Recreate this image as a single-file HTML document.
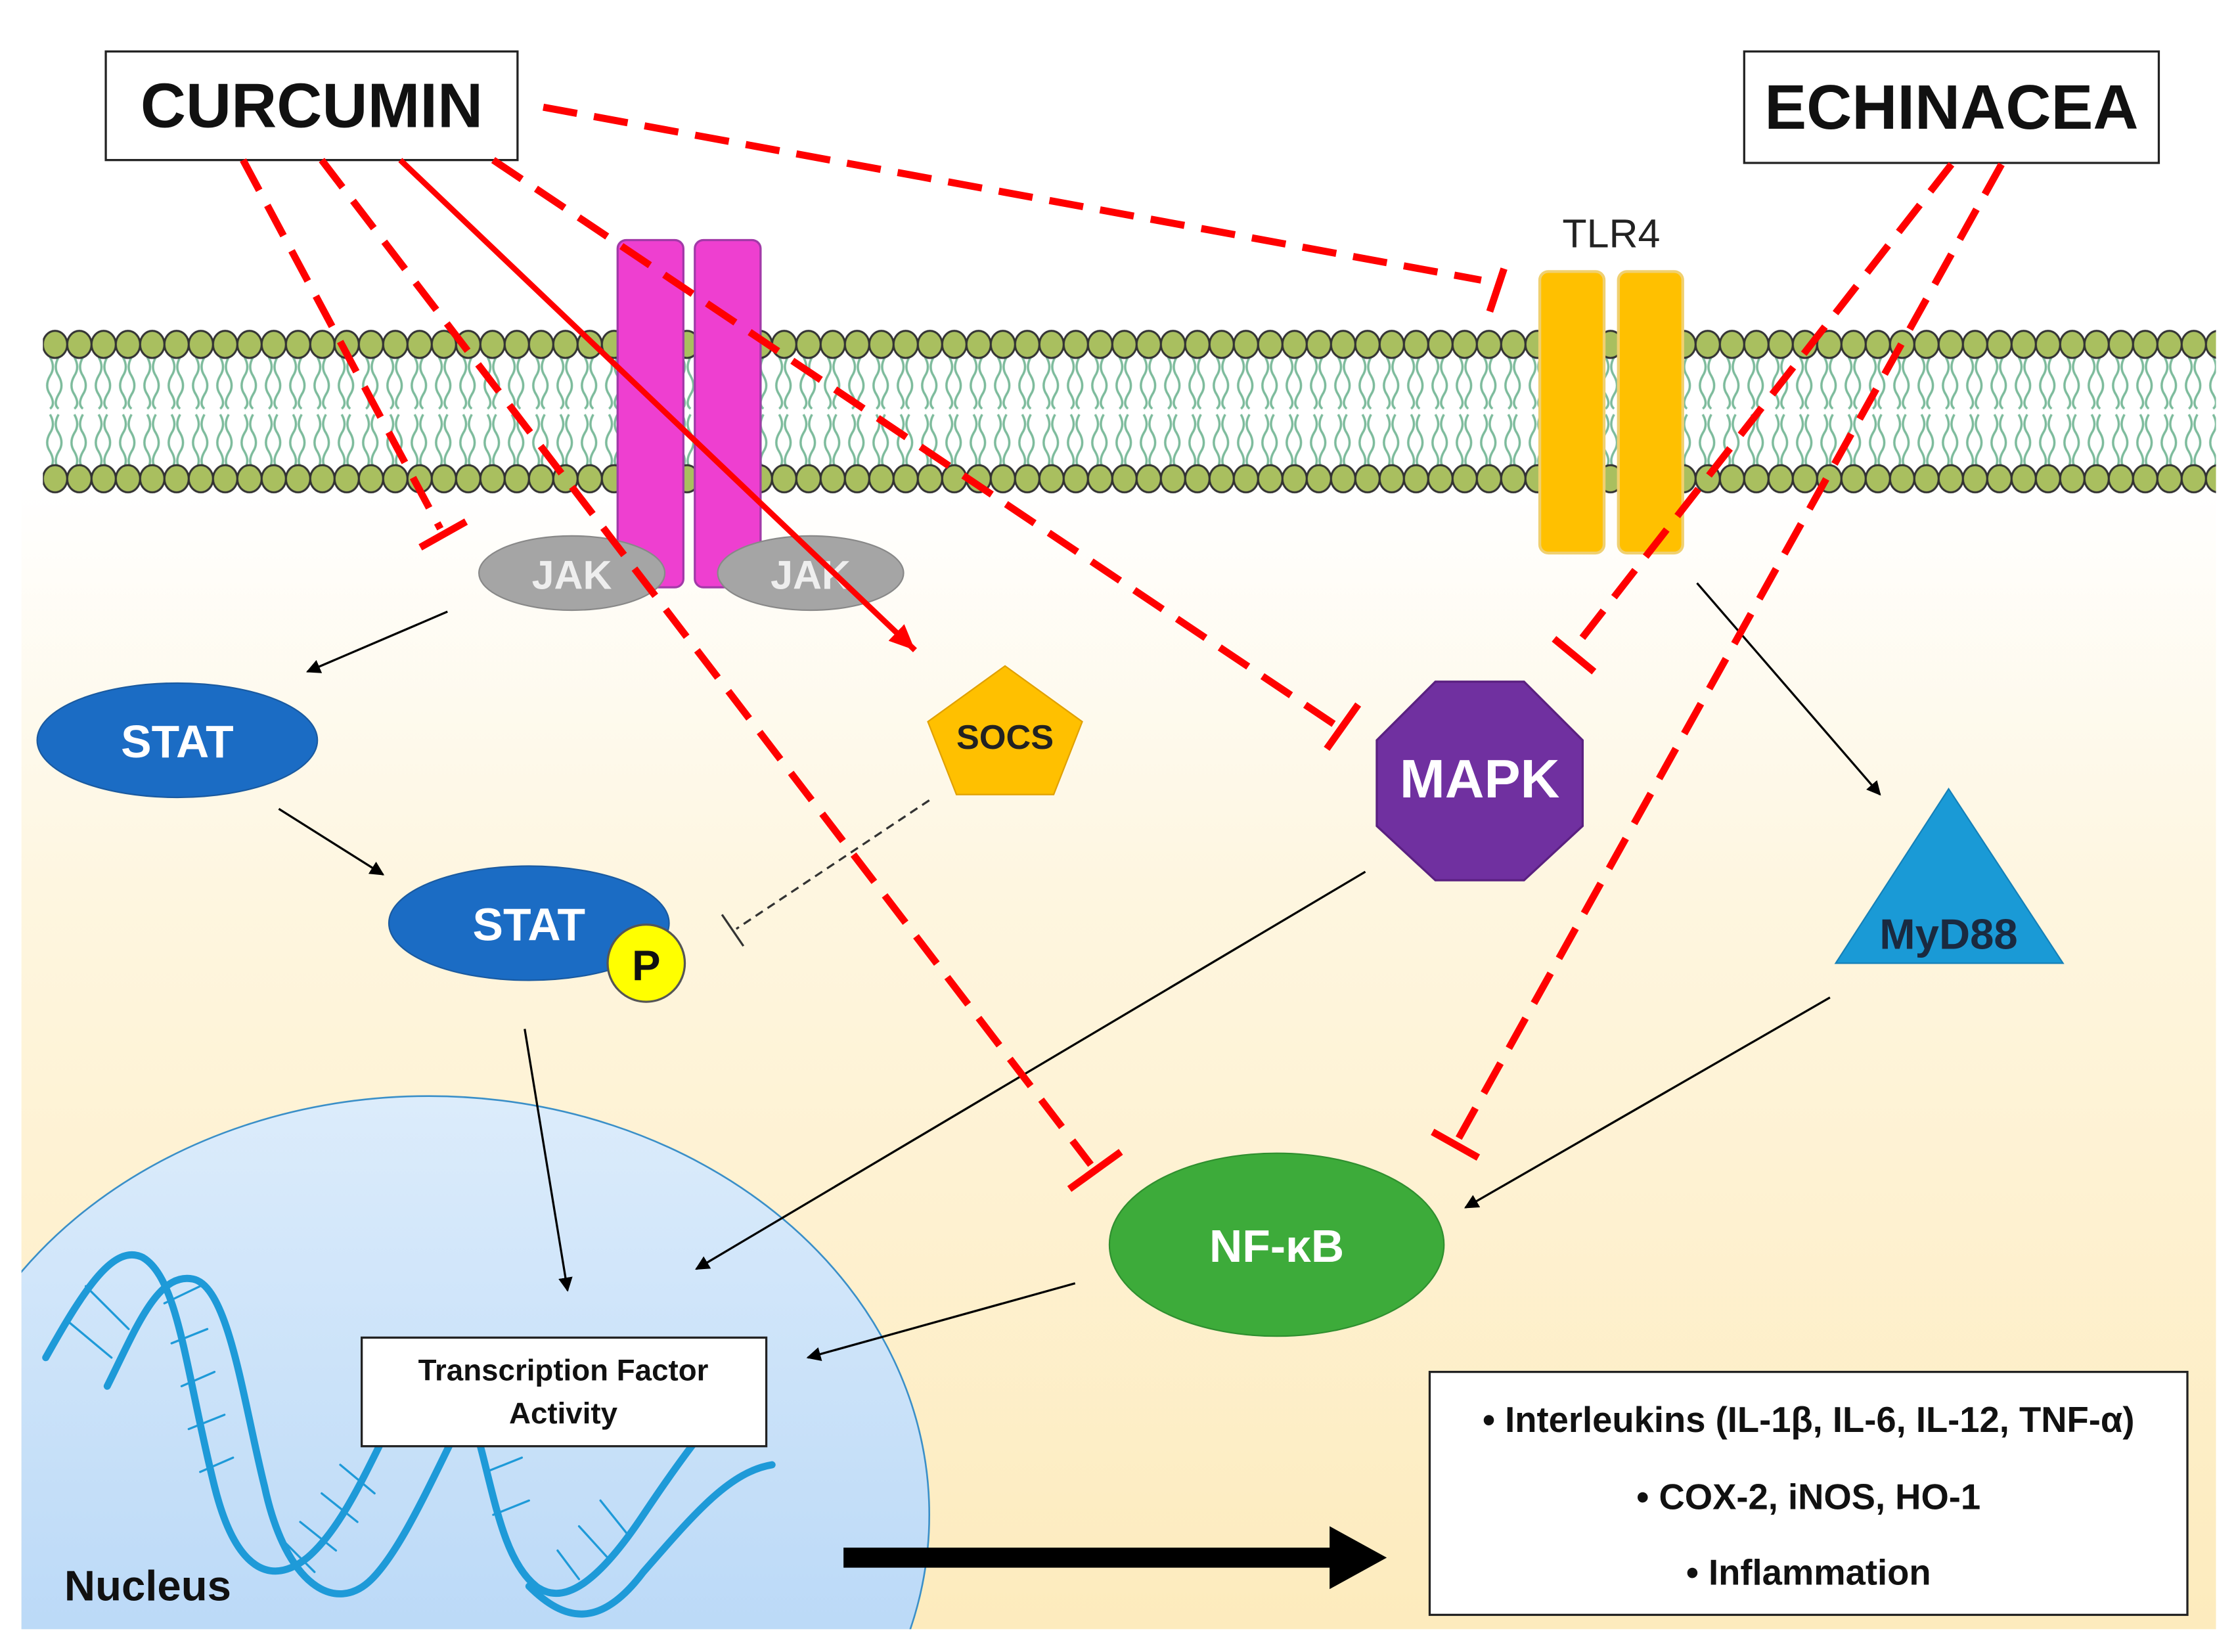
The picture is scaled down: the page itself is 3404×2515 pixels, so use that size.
<!DOCTYPE html>
<html><head><meta charset="utf-8"><style>
html,body{margin:0;padding:0;background:#fff;width:3404px;height:2515px;overflow:hidden;position:relative}
svg{display:block;position:absolute;left:0;top:0}
text{font-family:"Liberation Sans Narrow","Liberation Sans",sans-serif;font-weight:bold}
</style></head><body>
<svg width="3404" height="2515" viewBox="0 0 1564 1156" preserveAspectRatio="none" overflow="hidden" xmlns="http://www.w3.org/2000/svg">
<defs>
<linearGradient id="bg" x1="0" y1="0" x2="0" y2="1">
<stop offset="0" stop-color="#ffffff"/><stop offset="0.35" stop-color="#fef6e0"/><stop offset="1" stop-color="#fdebbd"/>
</linearGradient>
<linearGradient id="nuc" x1="0" y1="0" x2="0" y2="1">
<stop offset="0" stop-color="#dcecfb"/><stop offset="1" stop-color="#a9cff5"/>
</linearGradient>
<pattern id="mem" x="30" y="230" width="17" height="116" patternUnits="userSpaceOnUse">
<g fill="none" stroke="#7dbb9c" stroke-width="1.6">
<path d="M5,20 q4,7 0,13 q-4,7 0,13 q4,7 0,10"/>
<path d="M11,20 q-4,7 0,13 q4,7 0,13 q-4,7 0,10"/>
<path d="M5,60 q4,7 0,13 q-4,7 0,13 q4,7 0,12"/>
<path d="M11,60 q-4,7 0,13 q4,7 0,13 q-4,7 0,12"/>
</g>
<ellipse cx="8.5" cy="11" rx="8.5" ry="9.5" fill="#a9bf5f" stroke="#333" stroke-width="1.4"/>
<ellipse cx="8.5" cy="105" rx="8.5" ry="9.5" fill="#a9bf5f" stroke="#333" stroke-width="1.4"/>
</pattern>
<marker id="ah" markerWidth="10" markerHeight="10" refX="9" refY="5" orient="auto" markerUnits="userSpaceOnUse"><path d="M0,0 L10,5 L0,10 z" fill="#000"/></marker>
<marker id="rh" markerWidth="20" markerHeight="20" refX="18" refY="10" orient="auto" markerUnits="userSpaceOnUse"><path d="M0,2 L18,10 L0,18 z" fill="#f00"/></marker>
<clipPath id="cl"><rect x="15" y="340" width="1535" height="800"/></clipPath>
</defs>

<rect x="15" y="340" width="1535" height="800" fill="url(#bg)"/>
<ellipse cx="300" cy="1060" rx="350" ry="293" fill="url(#nuc)" stroke="#3a8fc8" stroke-width="1.2" clip-path="url(#cl)"/>
<g fill="none" stroke="#1e9ad8" stroke-linecap="round" clip-path="url(#cl)">
<path d="M32,950 C60,900 80,870 100,880 C125,895 130,960 150,1040 C165,1100 190,1110 215,1090 C250,1060 270,990 305,940" stroke-width="5"/>
<path d="M75,970 C95,930 110,890 135,895 C160,900 170,980 185,1040 C200,1110 235,1130 260,1105 C280,1085 300,1040 320,1000" stroke-width="5"/>
<path d="M330,990 C345,1040 350,1090 375,1110 C395,1125 420,1105 450,1060 C480,1015 500,990 515,975" stroke-width="5"/>
<path d="M370,1110 C395,1135 420,1140 450,1100 C485,1060 510,1030 540,1025" stroke-width="5"/>
<g stroke-width="1.5">
<path d="M60,900 L90,930 M48,925 L78,950 M115,912 L140,900 M120,940 L145,930 M127,970 L150,960 M132,1000 L157,990 M140,1030 L163,1020 M200,1080 L220,1100 M210,1065 L235,1085 M225,1045 L250,1065 M238,1025 L262,1045 M390,1085 L405,1105 M405,1068 L425,1090 M420,1050 L440,1075 M335,1000 L360,990 M340,1030 L365,1020 M345,1060 L370,1050"/>
</g>
</g>
<text x="45" y="1120" font-size="30" fill="#111">Nucleus</text>

<rect x="30" y="230" width="1520" height="116" fill="url(#mem)"/>

<rect x="432" y="168" width="46" height="243" rx="6" fill="#ee3fd0" stroke="#a23aa8" stroke-width="1.5"/>
<rect x="486" y="168" width="46" height="243" rx="6" fill="#ee3fd0" stroke="#a23aa8" stroke-width="1.5"/>
<ellipse cx="400" cy="401" rx="65" ry="26" fill="#a5a5a5" stroke="#888"/>
<ellipse cx="567" cy="401" rx="65" ry="26" fill="#a5a5a5" stroke="#888"/>
<text x="400" y="412" font-size="28" fill="#eeeeee" text-anchor="middle">JAK</text>
<text x="567" y="412" font-size="28" fill="#eeeeee" text-anchor="middle">JAK</text>
<rect x="1077" y="190" width="45" height="197" rx="6" fill="#ffc000" stroke="#f0d070" stroke-width="2"/>
<rect x="1132" y="190" width="45" height="197" rx="6" fill="#ffc000" stroke="#f0d070" stroke-width="2"/>
<text x="1127" y="173" font-size="28" style="font-weight:normal" fill="#222" text-anchor="middle">TLR4</text>

<rect x="74" y="36" width="288" height="76" fill="#fff" stroke="#222" stroke-width="1.5"/>
<text x="218" y="89" font-size="44" fill="#111" text-anchor="middle">CURCUMIN</text>
<rect x="1220" y="36" width="290" height="78" fill="#fff" stroke="#222" stroke-width="1.5"/>
<text x="1365" y="90" font-size="44" fill="#111" text-anchor="middle">ECHINACEA</text>

<ellipse cx="124" cy="518" rx="98" ry="40" fill="#1b6cc4" stroke="#1a5aa0"/>
<text x="124" y="530" font-size="32" fill="#fff" text-anchor="middle">STAT</text>
<ellipse cx="370" cy="646" rx="98" ry="40" fill="#1b6cc4" stroke="#1a5aa0"/>
<text x="370" y="658" font-size="32" fill="#fff" text-anchor="middle">STAT</text>
<circle cx="452" cy="674" r="27" fill="#ffff00" stroke="#555" stroke-width="1.5"/>
<text x="452" y="686" font-size="30" fill="#111" text-anchor="middle">P</text>
<polygon points="703,466 757,505 737,556 669,556 649,505" fill="#ffc000" stroke="#e0a000"/>
<text x="703" y="524" font-size="24" fill="#222" text-anchor="middle">SOCS</text>
<polygon points="1004,477 1066,477 1107,518 1107,578 1066,616 1004,616 963,578 963,518" fill="#7030a0" stroke="#5a2080" stroke-width="1.5"/>
<text x="1035" y="558" font-size="38" fill="#fff" text-anchor="middle">MAPK</text>
<polygon points="1363,552 1443,674 1284,674" fill="#1a9ad6" stroke="#1580b8"/>
<text x="1363" y="664" font-size="30" fill="#1a2a40" text-anchor="middle">MyD88</text>
<ellipse cx="893" cy="871" rx="117" ry="64" fill="#3dab3a" stroke="#2f8f2f"/>
<text x="893" y="883" font-size="32" fill="#fff" text-anchor="middle">NF-κB</text>

<rect x="253" y="936" width="283" height="76" fill="#fff" stroke="#222" stroke-width="1.5"/>
<text x="394" y="966" font-size="21" fill="#111" text-anchor="middle">Transcription Factor</text>
<text x="394" y="996" font-size="21" fill="#111" text-anchor="middle">Activity</text>

<rect x="1000" y="960" width="530" height="170" fill="#fff" stroke="#222" stroke-width="1.5"/>
<text x="1265" y="1002" font-size="25" fill="#111" text-anchor="middle">•  Interleukins (IL-1β, IL-6, IL-12, TNF-α)</text>
<text x="1265" y="1056" font-size="25" fill="#111" text-anchor="middle">•  COX-2, iNOS, HO-1</text>
<text x="1265" y="1109" font-size="25" fill="#111" text-anchor="middle">•  Inflammation</text>

<path d="M590,1083 L930,1083 L930,1068 L970,1090 L930,1112 L930,1097 L590,1097 z" fill="#000"/>

<g stroke="#000" stroke-width="1.5" fill="none" marker-end="url(#ah)">
<line x1="313" y1="428" x2="215" y2="470"/>
<line x1="195" y1="566" x2="268" y2="612"/>
<line x1="367" y1="720" x2="397" y2="903"/>
<line x1="955" y1="610" x2="487" y2="888"/>
<line x1="1187" y1="408" x2="1315" y2="556"/>
<line x1="1280" y1="698" x2="1025" y2="845"/>
<line x1="752" y1="898" x2="565" y2="950"/>
</g>
<line x1="650" y1="560" x2="515" y2="650" stroke="#333" stroke-width="1.5" stroke-dasharray="6,4"/>
<line x1="505" y1="640" x2="520" y2="662" stroke="#333" stroke-width="1.5"/>

<g stroke="#ff0000" stroke-width="5" fill="none">
<g stroke-dasharray="24,12">
<line x1="380" y1="75" x2="1036" y2="196"/>
<line x1="170" y1="112" x2="308" y2="370"/>
<line x1="225" y1="112" x2="763" y2="815"/>
<line x1="345" y1="112" x2="935" y2="508"/>
<line x1="1365" y1="115" x2="1100" y2="455"/>
<line x1="1400" y1="115" x2="1020" y2="797"/>
</g>
<line x1="1042" y1="218" x2="1052" y2="188"/>
<line x1="294" y1="383" x2="326" y2="365"/>
<line x1="748" y1="832" x2="784" y2="806"/>
<line x1="928" y1="524" x2="950" y2="493"/>
<line x1="1087" y1="447" x2="1115" y2="470"/>
<line x1="1002" y1="792" x2="1034" y2="810"/>
<line x1="280" y1="112" x2="640" y2="455" stroke-width="4" marker-end="url(#rh)"/>
</g>
</svg>
</body></html>
